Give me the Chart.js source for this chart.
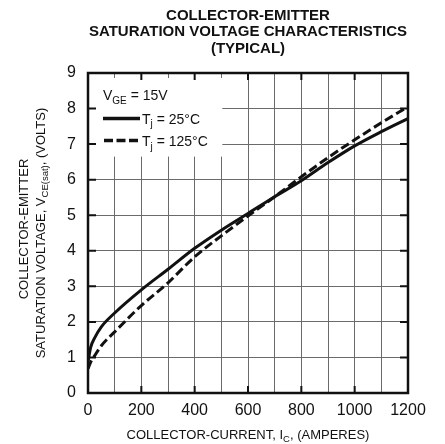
<!DOCTYPE html>
<html>
<head>
  <meta charset="UTF-8">
  <title>Collector-Emitter Saturation Voltage</title>
  <script src="https://cdn.jsdelivr.net/npm/chart.js"></script>
  <style>
    html, body { margin: 0; padding: 0; background: #fff; }
    #wrap { position: relative; width: 445px; height: 444px; }
    canvas { display: block; }
    .ylab {
      position: absolute;
      width: 320px;
      text-align: center;
      white-space: nowrap;
      font: 13px "Liberation Sans", Arial, Helvetica, sans-serif;
      line-height: 13px;
      color: #111;
      transform-origin: 0 0;
      transform: rotate(-90deg);
    }
    .ylab sub { font-size: 9.5px; line-height: 0; vertical-align: -3px; }
  </style>
</head>
<body>
  <div id="wrap">
    <canvas id="vceChart" width="445" height="444"></canvas>
    <div class="ylab" id="ylab1">COLLECTOR-EMITTER</div>
    <div class="ylab" id="ylab2">SATURATION VOLTAGE, V<sub>CE(sat)</sub>, (VOLTS)</div>
  </div>

  <script>
    // values (amperes / volts)
    const currentA = [0, 10, 25, 50, 100, 200, 300, 400, 500, 600, 700, 800, 900, 1000, 1100, 1200];
    const vce25 = [0.88, 1.28, 1.55, 1.86, 2.25, 2.9, 3.48, 4.07, 4.58, 5.05, 5.52, 5.97, 6.48, 6.95, 7.35, 7.72];
    const vce125 = [0.68, 0.87, 1.05, 1.33, 1.72, 2.46, 3.1, 3.83, 4.42, 4.98, 5.52, 6.08, 6.62, 7.12, 7.6, 8.05];

    const xTickLabels = [0, 200, 400, 600, 800, 1000, 1200];
    const yTickLabels = [0, 1, 2, 3, 4, 5, 6, 7, 8, 9];

    const titleLines = ['COLLECTOR-EMITTER', 'SATURATION VOLTAGE CHARACTERISTICS', '(TYPICAL)'];
    const FONT = '"Liberation Sans", Arial, Helvetica, sans-serif';
    const INK = '#111';

    // draw text pieces, some of them as subscripts
    function drawParts(ctx, parts, x, y, size, subSize, subDrop) {
      let cx = x;
      parts.forEach(p => {
        ctx.font = (p.sub ? subSize : size) + 'px ' + FONT;
        ctx.fillText(p.t, cx, p.sub ? y + subDrop : y);
        cx += ctx.measureText(p.t).width;
      });
      return cx - x;
    }
    function partsWidth(ctx, parts, size, subSize) {
      let w = 0;
      parts.forEach(p => {
        ctx.font = (p.sub ? subSize : size) + 'px ' + FONT;
        w += ctx.measureText(p.t).width;
      });
      return w;
    }

    const sketch = {
      id: 'sketch',
      beforeDatasetsDraw(chart) {
        const { ctx, chartArea: a, scales: { x, y } } = chart;
        // white legend panel sitting on the grid
        const bx = a.left + 8, by = a.top + 5;
        const bw = x.getPixelForValue(500) + 1 - bx;
        const bh = y.getPixelForValue(6.65) - by;
        ctx.save();
        ctx.fillStyle = '#fff';
        ctx.fillRect(bx, by, bw, bh);

        ctx.fillStyle = INK;
        ctx.textAlign = 'left';
        ctx.textBaseline = 'alphabetic';
        drawParts(ctx, [{ t: 'V' }, { t: 'GE', sub: true }, { t: ' = 15V' }], a.left + 15, a.top + 27, 14, 10, 3.5);

        ctx.strokeStyle = INK;
        ctx.lineWidth = 3.5;
        ctx.beginPath();
        ctx.moveTo(a.left + 15, a.top + 45.5);
        ctx.lineTo(a.left + 52, a.top + 45.5);
        ctx.stroke();
        drawParts(ctx, [{ t: 'T' }, { t: 'j', sub: true }, { t: ' = 25°C' }], a.left + 54, a.top + 50.5, 14, 10, 3.5);

        ctx.setLineDash([9, 3.5]);
        ctx.beginPath();
        ctx.moveTo(a.left + 16, a.top + 67.5);
        ctx.lineTo(a.left + 52, a.top + 67.5);
        ctx.stroke();
        ctx.setLineDash([]);
        drawParts(ctx, [{ t: 'T' }, { t: 'j', sub: true }, { t: ' = 125°C' }], a.left + 54, a.top + 73, 14, 10, 3.5);
        ctx.restore();
      },
      afterDraw(chart) {
        const { ctx, chartArea: a, scales: { x, y } } = chart;
        ctx.save();
        ctx.strokeStyle = INK;

        // heavy inner tick marks
        ctx.lineWidth = 2;
        ctx.beginPath();
        for (let v = 1; v < 9; v++) {
          const py = y.getPixelForValue(v);
          ctx.moveTo(a.left, py); ctx.lineTo(a.left + 8, py);
          ctx.moveTo(a.right, py); ctx.lineTo(a.right - 8, py);
        }
        for (let v = 200; v < 1200; v += 200) {
          const px = x.getPixelForValue(v);
          ctx.moveTo(px, a.bottom); ctx.lineTo(px, a.bottom - 7);
          ctx.moveTo(px, a.top); ctx.lineTo(px, a.top + 7);
        }
        ctx.stroke();

        // frame
        ctx.lineWidth = 2.5;
        ctx.strokeRect(a.left, a.top, a.right - a.left, a.bottom - a.top);

        // title
        const cx = (a.left + a.right) / 2;
        ctx.fillStyle = INK;
        ctx.textAlign = 'center';
        ctx.textBaseline = 'alphabetic';
        ctx.font = 'bold 15px ' + FONT;
        titleLines.forEach((t, i) => ctx.fillText(t, cx, 19.5 + i * 16.5));

        // x axis title
        ctx.textAlign = 'left';
        const xParts = [{ t: 'COLLECTOR-CURRENT, I' }, { t: 'C', sub: true }, { t: ', (AMPERES)' }];
        const xw = partsWidth(ctx, xParts, 13, 9.5);
        drawParts(ctx, xParts, cx - xw / 2, 439, 13, 9.5, 3);
        ctx.restore();

        // y axis title lines (html, turned a quarter) centred on the plot
        const cy = (a.top + a.bottom) / 2;
        const l1 = document.getElementById('ylab1');
        const l2 = document.getElementById('ylab2');
        l1.style.left = '17px';
        l1.style.top = (cy - 4 + 160) + 'px';
        l2.style.left = '34px';
        l2.style.top = (cy + 160) + 'px';
      }
    };

    new Chart(document.getElementById('vceChart'), {
      type: 'line',
      data: {
        datasets: [
          {
            label: 'Tj = 25°C',
            data: currentA.map((c, i) => ({ x: c, y: vce25[i] })),
            borderColor: INK,
            borderWidth: 3,
            pointRadius: 0,
            cubicInterpolationMode: 'monotone',
            fill: false
          },
          {
            label: 'Tj = 125°C',
            data: currentA.map((c, i) => ({ x: c, y: vce125[i] })),
            borderColor: INK,
            borderWidth: 3,
            borderDash: [9, 4],
            pointRadius: 0,
            cubicInterpolationMode: 'monotone',
            fill: false
          }
        ]
      },
      options: {
        responsive: false,
        animation: false,
        layout: { padding: { top: 73, right: 37, left: 0, bottom: 0 } },
        plugins: {
          legend: { display: false },
          title: { display: false },
          tooltip: { enabled: false }
        },
        scales: {
          x: {
            type: 'linear',
            min: 0,
            max: 1200,
            afterFit: s => { s.height = 51; },
            grid: { color: '#6a6a6a', lineWidth: 1, drawTicks: false },
            border: { display: false },
            ticks: {
              stepSize: 100,
              autoSkip: false,
              maxRotation: 0,
              padding: 8,
              color: INK,
              font: { family: FONT, size: 16 },
              callback: v => xTickLabels.includes(v) ? String(v) : ''
            }
          },
          y: {
            min: 0,
            max: 9,
            afterFit: s => { s.width = 88; },
            grid: { color: '#6a6a6a', lineWidth: 1, drawTicks: false },
            border: { display: false },
            ticks: {
              stepSize: 1,
              autoSkip: false,
              padding: 12,
              color: INK,
              font: { family: FONT, size: 16 },
              callback: v => yTickLabels.includes(v) ? String(v) : ''
            }
          }
        }
      },
      plugins: [sketch]
    });
  </script>
</body>
</html>
